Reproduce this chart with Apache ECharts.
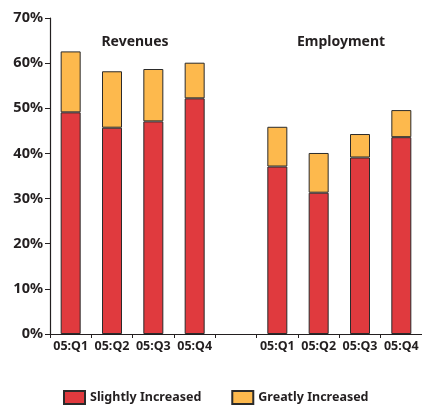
<!DOCTYPE html>
<html>
<head>
<meta charset="utf-8">
<script src="https://cdn.jsdelivr.net/npm/echarts@6/dist/echarts.min.js"></script>
<style>html,body{margin:0;padding:0;background:#fff}#c{width:422px;height:411px}</style>
</head>
<body>
<div id="c"></div>
<script>
var categories = ['05:Q1','05:Q2','05:Q3','05:Q4','','05:Q1','05:Q2','05:Q3','05:Q4'];
var slightlyIncreased = [49.1, 45.7, 47.1, 52.2, null, 37.1, 31.3, 39.1, 43.6];
var greatlyIncreased  = [13.5, 12.5, 11.6, 7.9, null, 8.8, 8.8, 5.2, 6.0];
var groupTitles = ['Revenues', 'Employment'];
var yTicks = [0, 10, 20, 30, 40, 50, 60, 70];

var font = 'Noto Sans';
var chart = echarts.init(document.getElementById('c'));
chart.setOption({
  animation: false,
  textStyle: {fontFamily: font},
  title: [
    {text: groupTitles[0], left: 130, top: 30, textAlign: 'center',
     textStyle: {fontFamily: font, fontSize: 14, fontWeight: 'bold', color: '#231f20'}},
    {text: groupTitles[1], left: 336, top: 30, textAlign: 'center',
     textStyle: {fontFamily: font, fontSize: 14, fontWeight: 'bold', color: '#231f20'}}
  ],
  legend: {
    bottom: 1, left: 58, itemGap: 30, itemWidth: 21, itemHeight: 13, icon: 'rect',
    textStyle: {fontFamily: font, fontSize: 12.5, fontWeight: 'bold', color: '#231f20'},
    data: ['Slightly Increased', 'Greatly Increased']
  },
  grid: {left: 50, right: 0, top: 18, bottom: 77, containLabel: false},
  xAxis: {
    type: 'category', data: categories,
    axisLine: {lineStyle: {color: '#231f20', width: 1.2}},
    axisTick: {show: true, length: 4, lineStyle: {color: '#231f20'}},
    axisLabel: {fontFamily: font, fontSize: 12.5, fontWeight: 'bold', color: '#231f20', margin: 6, interval: 0}
  },
  yAxis: {
    type: 'value', min: 0, max: 70, interval: 10,
    splitLine: {show: false},
    axisLine: {show: true, lineStyle: {color: '#231f20', width: 1.2}},
    axisTick: {show: true, length: 5, lineStyle: {color: '#231f20'}},
    axisLabel: {fontFamily: font, fontSize: 14.5, fontWeight: 'bold', color: '#231f20', margin: 7,
      formatter: function (v) { return v + '%'; }}
  },
  series: [
    {name: 'Slightly Increased', type: 'bar', stack: 's', data: slightlyIncreased, barWidth: 20,
     itemStyle: {color: '#e03a3e', borderColor: '#2b2b2b', borderWidth: 1}},
    {name: 'Greatly Increased', type: 'bar', stack: 's', data: greatlyIncreased, barWidth: 20,
     itemStyle: {color: '#fdb94d', borderColor: '#2b2b2b', borderWidth: 1}}
  ]
});
</script>
</body>
</html>
